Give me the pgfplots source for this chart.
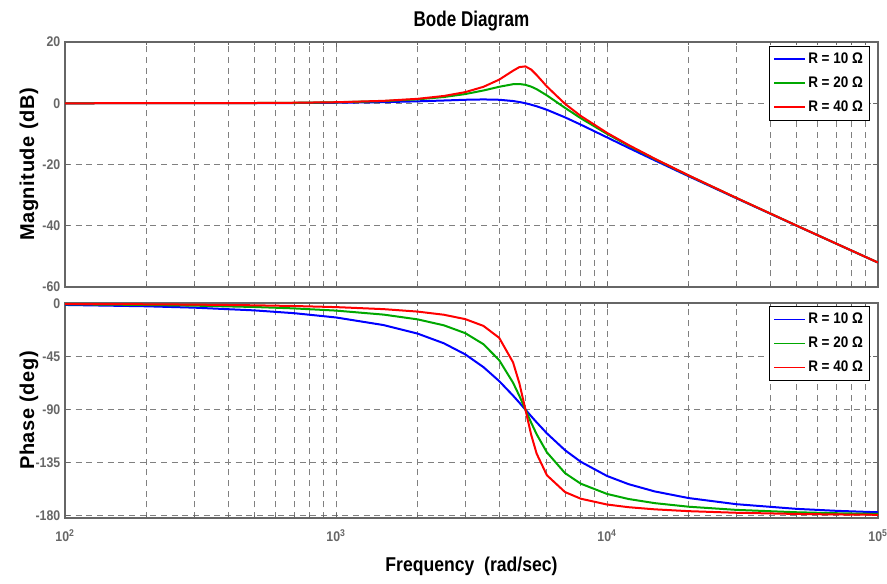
\documentclass[border=0pt]{standalone}
\usepackage{fontspec}
\setmainfont{Liberation Sans}
\newfontfamily\nar{Liberation Sans}[FakeStretch=0.88]
\newfontfamily\narr{Liberation Sans}[FakeStretch=0.8]
\newfontfamily\labsp{Liberation Sans}[LetterSpace=3]
\usepackage{pgfplots}
\usepackage{pgfplotstable}
\pgfplotsset{compat=1.18}
\definecolor{mgreen}{rgb}{0,0.66,0}
\definecolor{axgray}{gray}{0.4}
\definecolor{gridgray}{gray}{0.5}

% w: rad/s, m: magnitude (dB), p: phase (deg), for R = 10, 20, 40 Ohm
\pgfplotstableread{
w m10 m20 m40 p10 p20 p40
100 0.00 0.00 0.00 -1.15 -0.57 -0.29
200 0.01 0.01 0.01 -2.29 -1.15 -0.57
300 0.02 0.03 0.03 -3.45 -1.72 -0.86
500 0.04 0.08 0.08 -5.77 -2.89 -1.45
700 0.08 0.15 0.17 -8.13 -4.08 -2.05
1000 0.17 0.31 0.34 -11.77 -5.95 -2.98
1500 0.37 0.70 0.79 -18.25 -9.36 -4.71
2000 0.63 1.28 1.45 -25.46 -13.39 -6.79
2500 0.90 2.04 2.38 -33.69 -18.43 -9.46
3000 1.14 3.01 3.64 -43.15 -25.11 -13.19
3500 1.25 4.17 5.37 -53.92 -34.46 -18.94
4000 1.14 5.38 7.71 -65.77 -48.01 -29.05
4500 0.73 6.22 10.62 -78.08 -67.11 -49.82
4750 0.40 6.29 11.81 -84.14 -78.40 -67.68
5000 0.00 6.02 12.04 -90.00 -90.00 -90.00
5250 -0.47 5.43 11.00 -95.58 -101.05 -111.33
5500 -0.98 4.60 9.22 -100.81 -110.90 -127.37
6000 -2.13 2.57 5.47 -110.14 -126.25 -145.71
7000 -4.60 -1.50 -0.19 -124.44 -143.90 -159.97
8000 -6.98 -4.88 -4.14 -134.27 -152.85 -165.62
10000 -11.14 -10.00 -9.66 -146.31 -161.57 -170.54
12000 -14.54 -13.82 -13.62 -153.24 -165.85 -172.82
15000 -18.63 -18.21 -18.10 -159.44 -169.38 -174.64
20000 -23.82 -23.60 -23.54 -165.07 -172.41 -176.19
30000 -31.01 -30.91 -30.89 -170.27 -175.10 -177.55
50000 -39.96 -39.92 -39.92 -174.23 -177.11 -178.55
70000 -45.82 -45.81 -45.80 -175.89 -177.94 -178.97
100000 -52.03 -52.02 -52.02 -177.13 -178.56 -179.28
}\bode

\pgfplotsset{bodeax/.style={
  width=609.75pt, scale only axis,
  xmin=100, xmax=100000,
  grid=both,
  major grid style={dash pattern=on 4.5pt off 3.5pt, line width=0.6pt, gridgray},
  minor grid style={dash pattern=on 4.5pt off 3.5pt, line width=0.6pt, gridgray},
  axis line style={axgray, line width=1.2pt},
  tick style={axgray, line width=0.6pt},
  major tick length=4pt, minor tick length=2.5pt,
  tick align=inside,
  ticklabel style={font=\nar\bfseries\fontsize{10.5}{12}\selectfont, text=axgray},
  /pgf/number format/assume math mode=true,
  ylabel style={at={(axis description cs:-0.0443,0.5)}, anchor=center,
    font=\labsp\bfseries\fontsize{15}{17}\selectfont},
  legend style={at={(rel axis cs:0.99,0.985)}, anchor=north east, draw=black,
    font=\nar\bfseries\fontsize{11.5}{13}\selectfont,
    row sep=4.5pt, inner sep=3pt},
  legend cell align=left,
  legend image code/.code={\draw[##1] (0pt,0pt) -- (23pt,0pt);},
  every axis plot/.append style={line width=1.5pt},
}}

\begin{document}
\begin{tikzpicture}
\path[use as bounding box] (-48.75pt,-48.75pt) rectangle (616.5pt,388.5pt);

\begin{axis}[xmode=log, bodeax,
  at={(0,173.25pt)}, anchor=south west,
  height=183.75pt,
  ymin=-60, ymax=20, ytick={-60,-40,-20,0,20},
  xticklabels={},
  ylabel={Magnitude (dB)},
  title={Bode Diagram},
  title style={font=\narr\bfseries\fontsize{16}{18}\selectfont,
    at={(axis description cs:0.5,1)}, yshift=9.75pt, anchor=center},
]
\addlegendimage{draw=blue, line width=1.2pt}
\addlegendentry{R = 10 Ω}
\addlegendimage{draw=mgreen, line width=1.2pt}
\addlegendentry{R = 20 Ω}
\addlegendimage{draw=red, line width=1.2pt}
\addlegendentry{R = 40 Ω}
\addplot[blue, forget plot] table[x=w, y=m10] {\bode};
\addplot[mgreen, forget plot] table[x=w, y=m20] {\bode};
\addplot[red, forget plot] table[x=w, y=m40] {\bode};
\end{axis}

\begin{axis}[xmode=log, bodeax,
  at={(0,0)}, anchor=south west,
  height=161.25pt,
  ymin=-182, ymax=0.5, ytick={-180,-135,-90,-45,0},
  xtick={100,1000,10000,100000},
  xticklabels={10\textsuperscript{2},10\textsuperscript{3},10\textsuperscript{4},10\textsuperscript{5}},
  xticklabel style={yshift=-5pt},
  ylabel={Phase (deg)},
  xlabel={Frequency~~(rad/sec)},
  xlabel style={font=\nar\bfseries\fontsize{15}{17}\selectfont,
    at={(axis description cs:0.5,0)}, yshift=-36pt, anchor=center},
]
\addlegendimage{draw=blue, line width=1.2pt}
\addlegendentry{R = 10 Ω}
\addlegendimage{draw=mgreen, line width=1.2pt}
\addlegendentry{R = 20 Ω}
\addlegendimage{draw=red, line width=1.2pt}
\addlegendentry{R = 40 Ω}
\addplot[blue, forget plot] table[x=w, y=p10] {\bode};
\addplot[mgreen, forget plot] table[x=w, y=p20] {\bode};
\addplot[red, forget plot] table[x=w, y=p40] {\bode};
\end{axis}
\end{tikzpicture}
\end{document}
